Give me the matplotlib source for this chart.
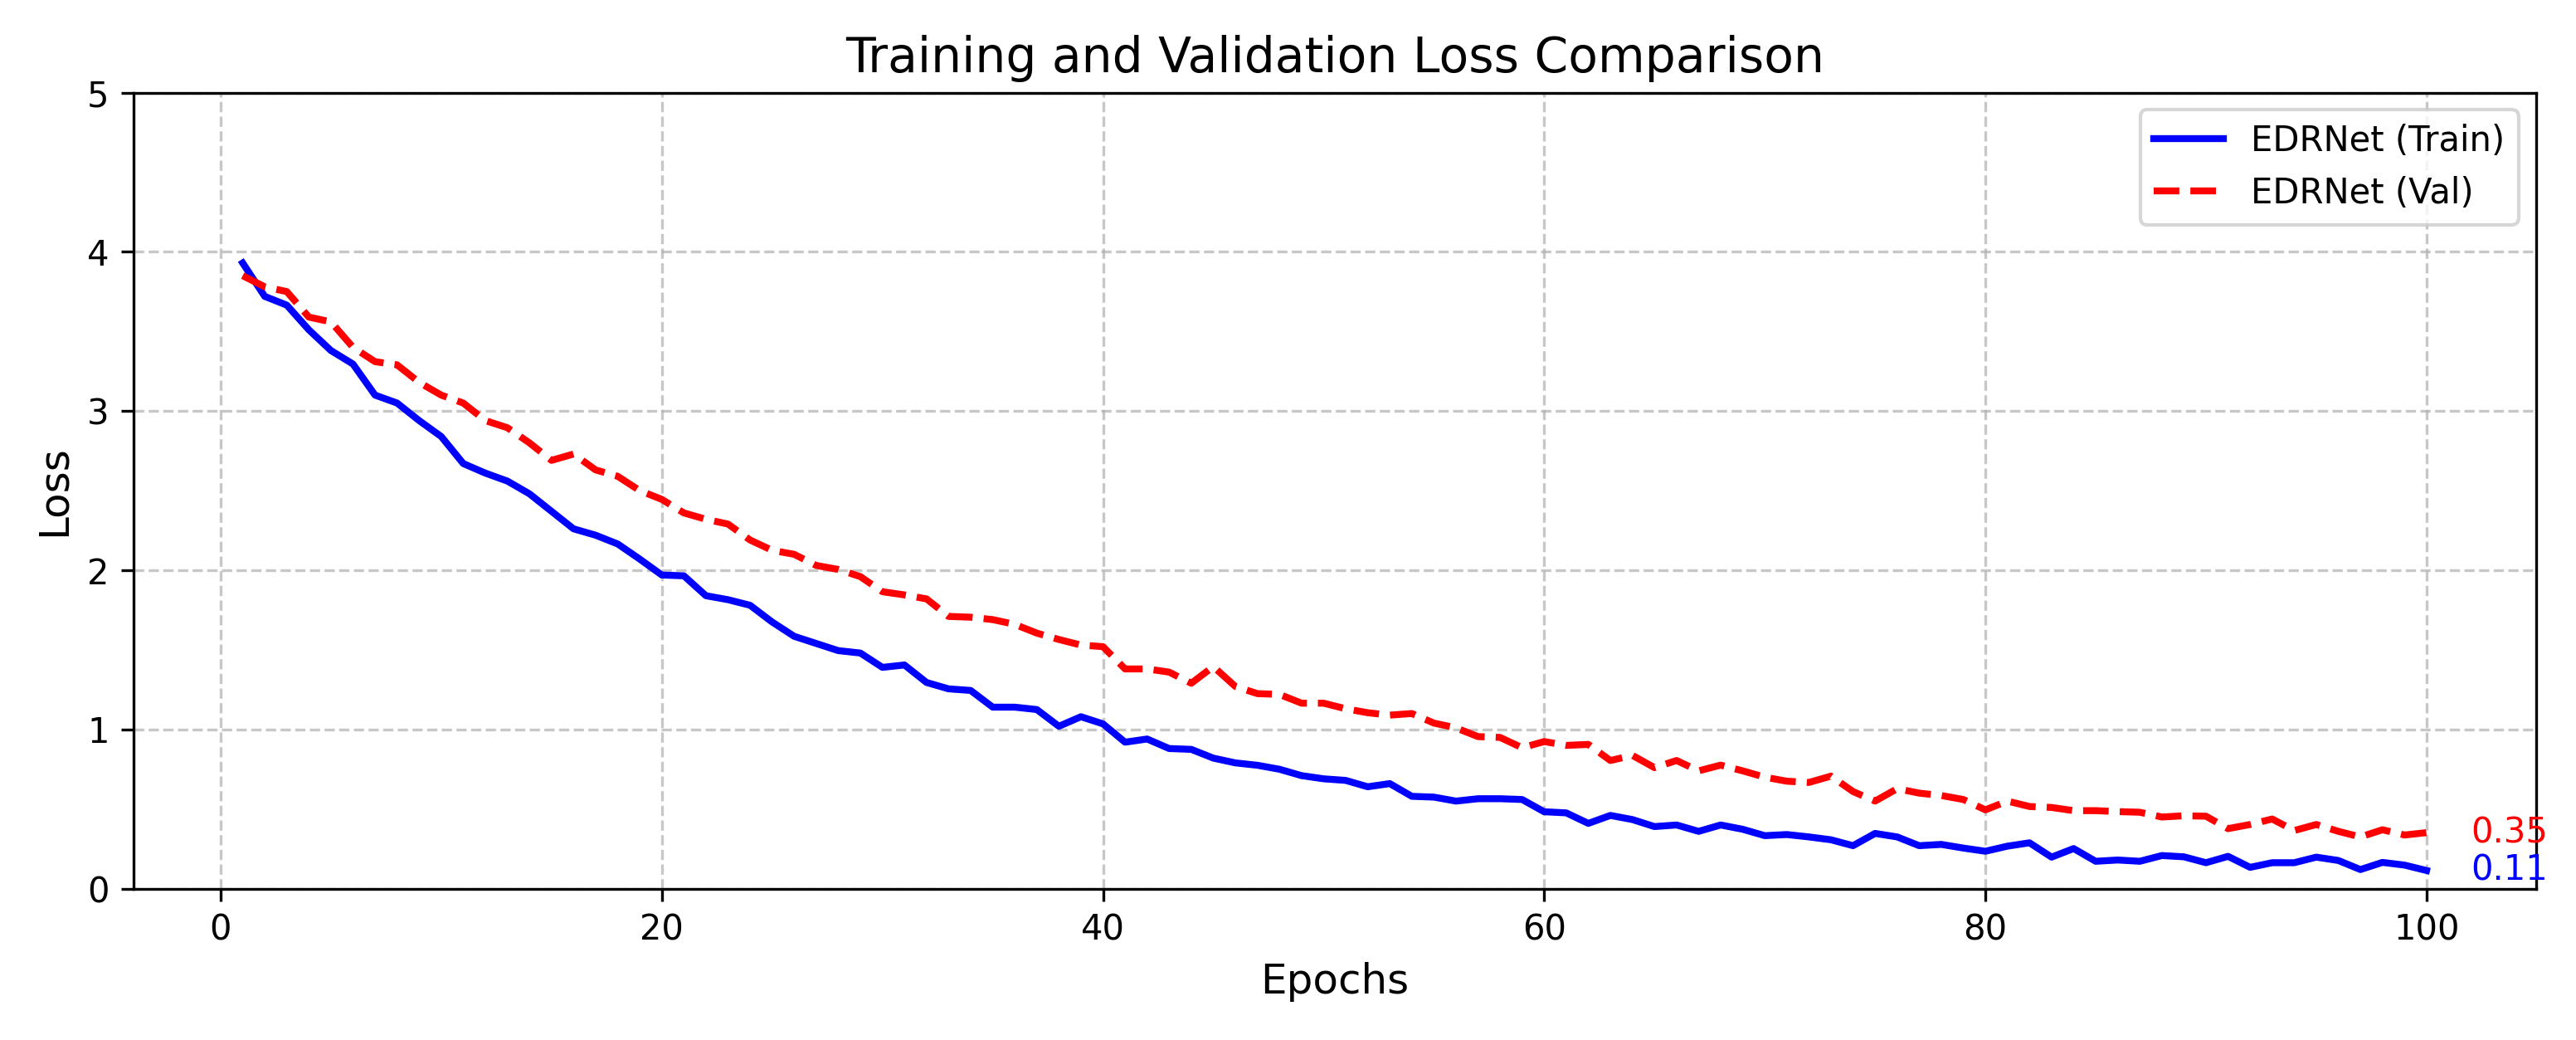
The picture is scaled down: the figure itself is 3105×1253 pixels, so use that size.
import numpy as np
import matplotlib.pyplot as plt

# loss values
epochs = np.arange(1, 101)

train_loss = [
    3.93, 3.72, 3.665, 3.51, 3.38, 3.295, 3.10, 3.05, 2.94, 2.84,
    2.67, 2.61, 2.56, 2.48, 2.37, 2.26, 2.22, 2.165, 2.07, 1.97,
    1.965, 1.84, 1.815, 1.78, 1.675, 1.585, 1.54, 1.495, 1.48, 1.39,
    1.405, 1.295, 1.255, 1.245, 1.14, 1.14, 1.125, 1.02, 1.08, 1.035,
    0.92, 0.94, 0.88, 0.875, 0.82, 0.79, 0.775, 0.75, 0.71, 0.69,
    0.68, 0.64, 0.66, 0.58, 0.575, 0.55, 0.565, 0.565, 0.56, 0.483,
    0.476, 0.41, 0.46, 0.434, 0.39, 0.40, 0.36, 0.40, 0.373, 0.333,
    0.34, 0.325, 0.307, 0.27, 0.347, 0.325, 0.27, 0.278, 0.255, 0.235,
    0.267, 0.288, 0.198, 0.252, 0.172, 0.18, 0.172, 0.208, 0.20, 0.163,
    0.203, 0.134, 0.163, 0.163, 0.198, 0.177, 0.12, 0.165, 0.148, 0.114,
]

val_loss = [
    3.85, 3.78, 3.75, 3.59, 3.56, 3.40, 3.31, 3.29, 3.18, 3.10,
    3.05, 2.94, 2.895, 2.80, 2.69, 2.73, 2.63, 2.59, 2.50, 2.445,
    2.36, 2.32, 2.29, 2.19, 2.125, 2.10, 2.03, 2.005, 1.96, 1.865,
    1.845, 1.82, 1.71, 1.705, 1.69, 1.66, 1.605, 1.565, 1.53, 1.52,
    1.38, 1.38, 1.36, 1.29, 1.395, 1.27, 1.225, 1.22, 1.165, 1.165,
    1.13, 1.105, 1.09, 1.10, 1.04, 1.01, 0.955, 0.95, 0.885, 0.924,
    0.90, 0.906, 0.805, 0.837, 0.76, 0.805, 0.74, 0.776, 0.74, 0.70,
    0.675, 0.667, 0.707, 0.61, 0.55, 0.628, 0.60, 0.585, 0.56, 0.495,
    0.55, 0.516, 0.51, 0.49, 0.49, 0.484, 0.48, 0.45, 0.458, 0.455,
    0.377, 0.403, 0.4375, 0.365, 0.403, 0.36, 0.325, 0.37, 0.337, 0.352,
]

fig, ax = plt.subplots(figsize=(10.353, 4.177), dpi=300)
fig.subplots_adjust(left=0.0518, right=0.9841, bottom=0.1455, top=0.9109)

ax.plot(epochs, train_loss, color='blue', linewidth=2, label='EDRNet (Train)')
ax.plot(epochs, val_loss, color='red', linestyle='--', linewidth=2, label='EDRNet (Val)')

# final values next to the line ends
ax.text(epochs[-1] + 2, val_loss[-1], f"{val_loss[-1]:.2f}", color='red',
        fontsize=10, ha='left', va='center')
ax.text(epochs[-1] + 2, train_loss[-1], f"{train_loss[-1]:.2f}", color='blue',
        fontsize=10, ha='left', va='center')

ax.set_title('Training and Validation Loss Comparison', fontsize=14)
ax.set_xlabel('Epochs', fontsize=12)
ax.set_ylabel('Loss', fontsize=12)
ax.set_ylim(0, 5)
ax.grid(True, linestyle='--', alpha=0.7)
ax.legend(loc='upper right', fontsize=10)

plt.savefig('out.png', dpi=300, facecolor='white')
plt.close()
